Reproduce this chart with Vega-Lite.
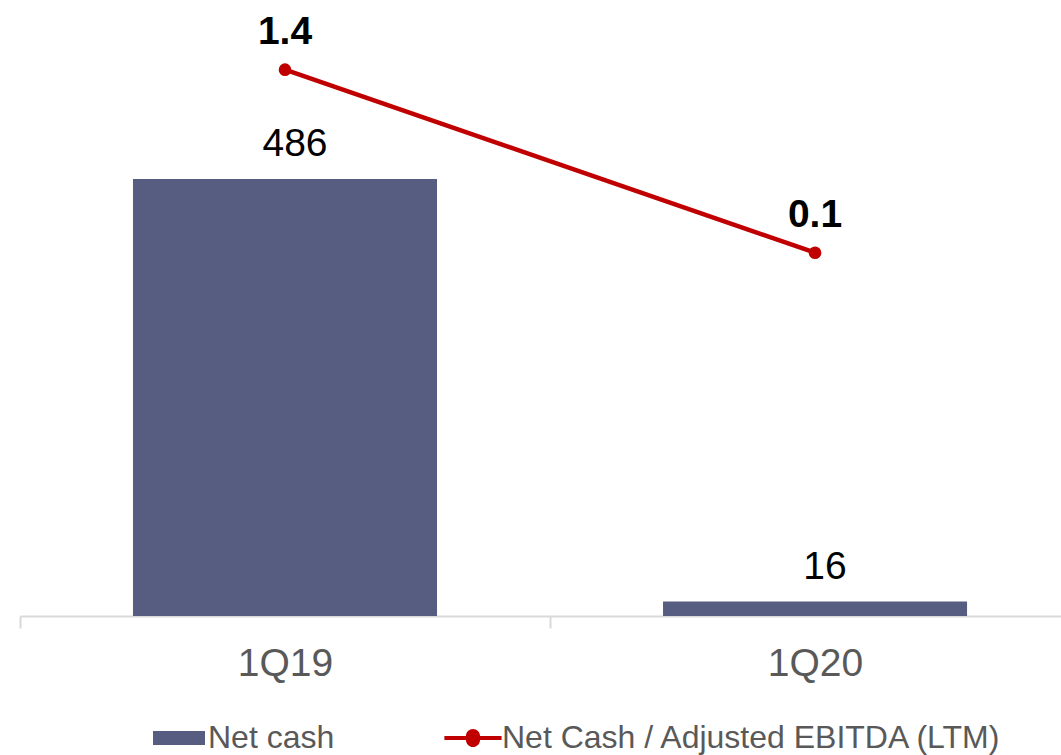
{
  "$schema": "https://vega.github.io/schema/vega-lite/v6.json",
  "width": 1041,
  "height": 616,
  "autosize": {"type": "none"},
  "padding": {"left": 20, "top": 0, "right": 0, "bottom": 139},
  "background": "white",
  "config": {
    "view": {"stroke": null},
    "font": "Liberation Sans"
  },
  "data": {
    "values": [
      {"period": "1Q19", "net_cash": 486, "ratio": 1.4},
      {"period": "1Q20", "net_cash": 16, "ratio": 0.1}
    ]
  },
  "encoding": {
    "x": {
      "field": "period",
      "type": "nominal",
      "sort": null,
      "scale": {"paddingInner": 0.4264, "paddingOuter": 0.1952, "align": 0.546},
      "axis": {
        "title": null,
        "labelAngle": 0,
        "labelFont": "Liberation Sans",
        "labelFontSize": 39,
        "labelColor": "#595959",
        "labelPadding": 16,
        "labelOffset": 265,
        "domainColor": "#d9d9d9",
        "domainWidth": 2,
        "tickColor": "#d9d9d9",
        "tickWidth": 2,
        "tickSize": 12,
        "tickOffset": -265,
        "grid": false
      }
    }
  },
  "layer": [
    {
      "layer": [
        {
          "mark": {"type": "bar"},
          "encoding": {
            "y": {"field": "net_cash", "type": "quantitative", "scale": {"domain": [0, 685], "nice": false}, "axis": null},
            "color": {
              "datum": "Net cash",
              "scale": {"domain": ["Net cash", "Net Cash / Adjusted EBITDA (LTM)"], "range": ["#565D80", "#C00000"]},
              "legend": {
                "title": null,
                "orient": "none",
                "legendX": 133,
                "legendY": 712,
                "direction": "horizontal",
                "padding": 0,
                "symbolSize": 2704,
                "labelOffset": 3,
                "columnPadding": 109,
                "labelFont": "Liberation Sans",
                "labelFontSize": 32,
                "labelColor": "#595959",
                "labelLimit": 0,
                "encode": {
                  "symbols": {
                    "update": {
                      "shape": {"signal": "datum.value === 'Net cash' ? 'M-1,-0.27H1V0.27H-1Z' : 'M-1.1,-0.08H-0.27A0.27,0.27 0 0,1 0.27,-0.08H1.1V0.08H0.27A0.27,0.27 0 0,1 -0.27,0.08H-1.1Z'"},
                      "fill": {"signal": "datum.value === 'Net cash' ? '#565D80' : '#C00000'"},
                      "fillOpacity": {"value": 1},
                      "opacity": {"value": 1},
                      "strokeWidth": {"value": 0}
                    }
                  }
                }
              }
            }
          }
        },
        {
          "mark": {"type": "text", "dy": -23, "dx": 10, "baseline": "alphabetic", "fontSize": 39, "font": "Liberation Sans", "color": "#000000"},
          "encoding": {
            "y": {"field": "net_cash", "type": "quantitative", "scale": {"domain": [0, 685], "nice": false}, "axis": null},
            "text": {"field": "net_cash", "type": "quantitative"}
          }
        }
      ]
    },
    {
      "layer": [
        {
          "mark": {"type": "line", "strokeWidth": 4.5},
          "encoding": {
            "y": {"field": "ratio", "type": "quantitative", "scale": {"domain": [-2.48, 1.895], "nice": false, "zero": false}, "axis": null},
            "color": {"datum": "Net Cash / Adjusted EBITDA (LTM)"}
          }
        },
        {
          "mark": {"type": "point", "filled": true, "size": 160, "opacity": 1},
          "encoding": {
            "y": {"field": "ratio", "type": "quantitative", "scale": {"domain": [-2.48, 1.895], "nice": false, "zero": false}, "axis": null},
            "color": {"datum": "Net Cash / Adjusted EBITDA (LTM)"}
          }
        },
        {
          "mark": {"type": "text", "dy": -26, "baseline": "alphabetic", "fontSize": 39, "fontWeight": "bold", "font": "Liberation Sans", "color": "#000000"},
          "encoding": {
            "y": {"field": "ratio", "type": "quantitative", "scale": {"domain": [-2.48, 1.895], "nice": false, "zero": false}, "axis": null},
            "text": {"field": "ratio", "type": "quantitative", "format": ".1f"}
          }
        }
      ]
    }
  ],
  "resolve": {"scale": {"y": "independent"}}
}
